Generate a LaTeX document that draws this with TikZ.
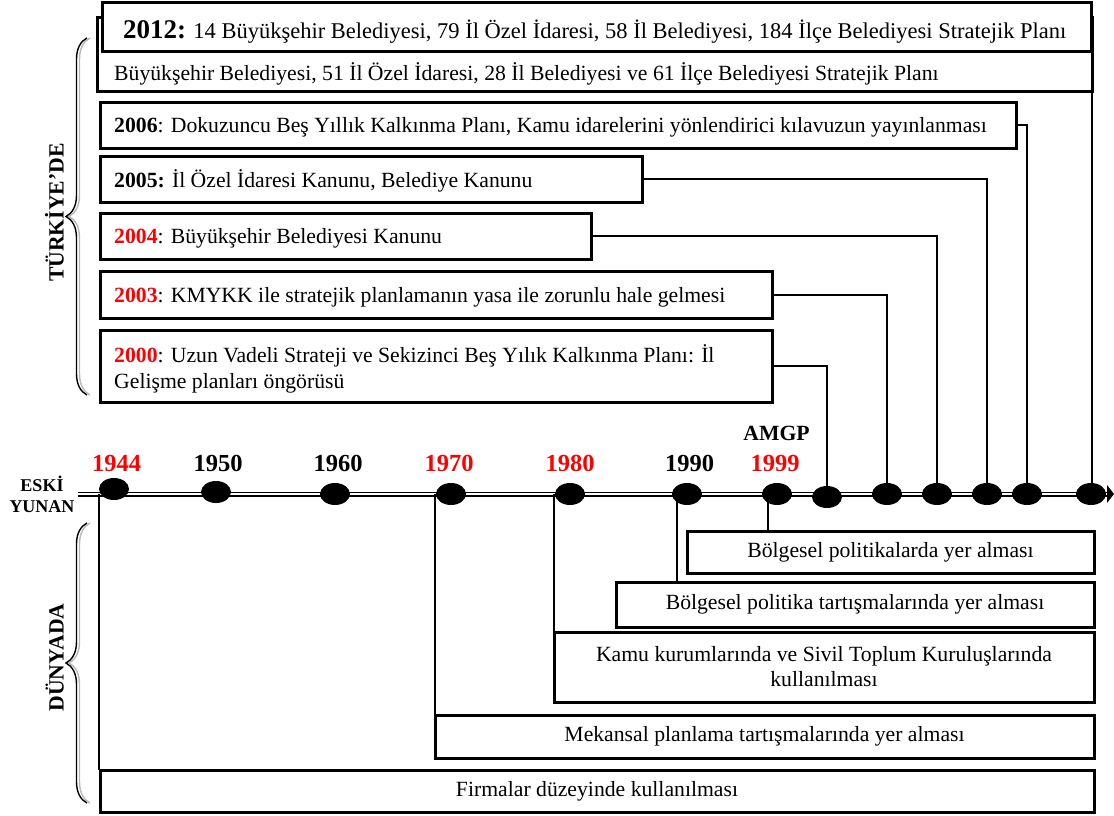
\documentclass[tikz,border=0pt]{standalone}
\usepackage{fontspec}
\setmainfont{Liberation Serif}
\usetikzlibrary{shapes.geometric,decorations.pathreplacing,calc}
\begin{document}
\begin{tikzpicture}[x=1pt,y=-1pt,
  tbox/.style={draw, line width=3pt, fill=white, outer sep=0pt, inner sep=0pt, anchor=north west},
  dbox/.style={draw, line width=3pt, fill=white, outer sep=0pt, inner sep=0pt, anchor=north west, align=center, font=\fontsize{21.7}{25}\selectfont},
  ttext/.style={anchor=base west, inner sep=0pt, font=\fontsize{21.7}{26}\selectfont},
  tdot/.style={ellipse, fill=black, minimum width=30pt, minimum height=22pt, inner sep=0pt},
  yr/.style={anchor=base, inner sep=0pt, font=\bfseries\fontsize{24.5}{26}\selectfont},
  conn/.style={line width=2pt},
  vline/.style={line width=2pt},
  brc/.style={decorate, decoration={brace, amplitude=21pt}, line width=1.4pt},
  side/.style={rotate=90, anchor=base, inner sep=0pt, font=\bfseries\fontsize{21.7}{24}\selectfont}
]
\useasboundingbox (0,0) rectangle (1114,816);

% timeline
\coordinate (tlS) at (78,494);
\coordinate (tlE) at (1108,494);
\draw[line width=1.5pt, double=white, double distance=2pt] (tlS) -- (tlE);
\fill (1107,485) -- (1114,494) -- (1107,503) -- cycle;

% dots
\node[tdot] (d1944) at (114,489) {};
\node[tdot] (d1950) at (216,492) {};
\node[tdot] (d1960) at (335,494) {};
\node[tdot] (d1970) at (451,494) {};
\node[tdot] (d1980) at (570,494) {};
\node[tdot] (d1990) at (687,494) {};
\node[tdot] (d1999) at (777,494) {};
\node[tdot] (d2000) at (827,497) {};
\node[tdot] (d2003) at (887,494) {};
\node[tdot] (d2004) at (937,494) {};
\node[tdot] (d2005) at (987,494) {};
\node[tdot] (d2006) at (1027,494) {};
\node[tdot] (d2012) at (1091,494) {};

% years
\node[yr, red]   (y1944) at (116.6,471) {1944};
\node[yr]        (y1950) at (218,471) {1950};
\node[yr]        (y1960) at (338,471) {1960};
\node[yr, red]   (y1970) at (449,471) {1970};
\node[yr, red]   (y1980) at (570,471) {1980};
\node[yr]        (y1990) at (689.5,471) {1990};
\node[yr, red]   (y1999) at (775,471) {1999};
\node[anchor=base, inner sep=0pt, font=\bfseries\fontsize{21.7}{24}\selectfont] (amgp) at (776.5,440) {AMGP};
\node[align=center, inner sep=0pt, font=\bfseries\fontsize{18}{21}\selectfont] (eski) at (42,494) {ESKİ\\YUNAN};

% Turkey boxes
\node[tbox, minimum width=994.5pt, minimum height=73pt] (b2010) at (97.5,18) {};
\node[tbox, minimum width=989pt, minimum height=49pt] (b2012) at (102.5,3) {};
\node[tbox, minimum width=916pt, minimum height=46pt] (b2006) at (100,102) {};
\node[tbox, minimum width=542pt, minimum height=46pt] (b2005) at (100,156) {};
\node[tbox, minimum width=491pt, minimum height=46pt] (b2004) at (100,213) {};
\node[tbox, minimum width=672pt, minimum height=47pt] (b2003) at (100,271) {};
\node[tbox, minimum width=672pt, minimum height=72pt] (b2000) at (100,330) {};

\node[ttext] (t2012) at (123,39) {{\bfseries\fontsize{27}{30}\selectfont 2012:} {\fontsize{22.5}{26}\selectfont 14 Büyükşehir Belediyesi, 79 İl Özel İdaresi, 58 İl Belediyesi, 184 İlçe Belediyesi Stratejik Planı}};
\node[ttext] (t2010) at (114,81) {Büyükşehir Belediyesi, 51 İl Özel İdaresi, 28 İl Belediyesi ve 61 İlçe Belediyesi Stratejik Planı};
\node[ttext] (t2006) at (114,132) {\textbf{2006}: Dokuzuncu Beş Yıllık Kalkınma Planı, Kamu idarelerini yönlendirici kılavuzun yayınlanması};
\node[ttext] (t2005) at (114,187) {\textbf{2005:} İl Özel İdaresi Kanunu, Belediye Kanunu};
\node[ttext] (t2004) at (114,243) {\textbf{\color{red}2004}: Büyükşehir Belediyesi Kanunu};
\node[ttext] (t2003) at (114,302) {\textbf{\color{red}2003}: KMYKK ile stratejik planlamanın yasa ile zorunlu hale gelmesi};
\node[ttext] (t2000a) at (114,362) {\textbf{\color{red}2000}: Uzun Vadeli Strateji ve Sekizinci Beş Yılık Kalkınma Planı: İl};
\node[ttext] (t2000b) at (114,388) {Gelişme planları öngörüsü};

% Turkey connectors
\draw[conn] (b2000.east) -| (d2000.north);
\draw[conn] (b2003.east) -| (d2003.north);
\draw[conn] (b2004.east) -| (d2004.north);
\draw[conn] (b2005.east) -| (d2005.north);
\draw[conn] (b2006.east) -| (d2006.north);
\draw[conn] (b2010.south east) -- (b2010.south east |- d2012.north);

% World boxes
\node[dbox, minimum width=407pt, minimum height=42pt] (b1999) at (687,531) {Bölgesel politikalarda yer alması};
\node[dbox, minimum width=478pt, minimum height=45pt] (b1990) at (616,582) {Bölgesel politika tartışmalarında yer alması};
\node[dbox, minimum width=540pt, minimum height=70pt] (b1980) at (554,632) {Kamu kurumlarında ve Sivil Toplum Kuruluşlarında\\kullanılması};
\node[dbox, minimum width=659pt, minimum height=43pt] (b1970) at (435,715) {Mekansal planlama tartışmalarında yer alması};
\node[dbox, minimum width=994pt, minimum height=42pt] (b1944) at (100,770) {Firmalar düzeyinde kullanılması};

% World connectors
\coordinate (c1990) at ($(d1990.center)+(-10,0)$);
\coordinate (c1999) at ($(d1999.center)+(-9,0)$);
\draw[vline] (d1944.west |- tlS) -- (d1944.west |- b1944.north);
\draw[vline] (b1970.north west |- tlS) -- (b1970.north west);
\draw[vline] (b1980.north west |- tlS) -- (b1980.north west);
\draw[vline] (c1990) -- (c1990 |- b1990.north);
\draw[vline] (c1999) -- (c1999 |- b1999.north);

% braces
\draw[brc, gray!55, xshift=3pt] (87,395) -- (87,38);
\draw[brc] (87,395) -- (87,38);
\draw[brc, gray!55, xshift=3pt] (87,803) -- (87,523);
\draw[brc] (87,803) -- (87,523);
\node[side] (tr) at (63.5,212.5) {TÜRKİYE’DE};
\node[side] (dn) at (63.5,657.5) {DÜNYADA};
\end{tikzpicture}
\end{document}
